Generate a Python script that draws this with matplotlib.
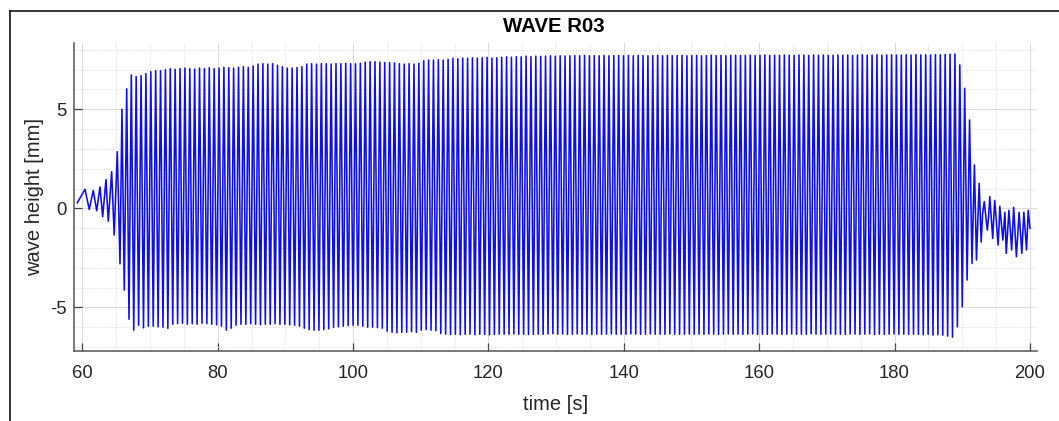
import numpy as np
import matplotlib
matplotlib.use("Agg")
import matplotlib.pyplot as plt
from matplotlib.lines import Line2D
from matplotlib.ticker import MultipleLocator

# ---------------- data ----------------
title = "WAVE R03"
x_label = "time [s]"
y_label = "wave height [mm]"
x_ticks = [60, 80, 100, 120, 140, 160, 180, 200]
y_ticks = [-5, 0, 5]

# start-up of the wave maker: extremes (time [s], height [mm])
onset_t = [59.26, 60.40, 61.03, 61.62, 62.13, 62.61, 63.01, 63.50, 63.84,
           64.34, 64.71, 65.17, 65.57, 65.86, 66.20, 66.56, 66.90]
onset_y = [0.28, 0.96, -0.05, 0.90, -0.12, 1.08, -0.42, 1.45, -0.65,
           1.85, -1.35, 2.86, -2.80, 5.00, -4.13, 6.03, -5.60]

# steady wave train: one crest and one trough per wave
train_start = 67.24      # time of first crest [s]
wave_period = 0.72       # [s]
train_crests = [
    6.73, 6.65, 6.70, 6.80,
    6.90, 6.95, 6.95, 7.00,
    7.05, 7.02, 7.05, 7.08, 7.05, 7.03, 7.08, 7.05, 7.10, 7.05,
    7.08, 7.12, 7.10, 7.08, 7.12, 7.15, 7.12, 7.18,
    7.28, 7.30, 7.28, 7.30, 7.22, 7.15,
    7.08, 7.08, 7.10, 7.15,
    7.28, 7.30, 7.28, 7.30, 7.30, 7.28, 7.30, 7.30, 7.32, 7.30,
    7.30, 7.32, 7.38, 7.40,
    7.40, 7.38, 7.36, 7.36,
    7.34, 7.30, 7.28, 7.30, 7.28,
    7.32, 7.45, 7.48,
    7.48, 7.50, 7.48, 7.52,
    7.58, 7.55, 7.58, 7.58, 7.60, 7.58, 7.60, 7.62, 7.58, 7.60,
    7.62, 7.65, 7.63, 7.66, 7.65, 7.68, 7.66, 7.68, 7.67, 7.68,
    7.70, 7.68, 7.70, 7.69, 7.70, 7.71, 7.70, 7.72, 7.70, 7.71,
    7.70, 7.72, 7.70, 7.71, 7.72, 7.70, 7.71, 7.70, 7.72, 7.71,
    7.70, 7.71, 7.73, 7.70, 7.72, 7.70, 7.71, 7.72, 7.70, 7.71,
    7.72, 7.70, 7.71, 7.73, 7.71, 7.72, 7.70, 7.72, 7.73, 7.71,
    7.72, 7.73, 7.71, 7.72, 7.74, 7.72, 7.73, 7.72, 7.74, 7.73,
    7.72, 7.74, 7.73, 7.72, 7.74, 7.73, 7.74, 7.72, 7.73, 7.74,
    7.73, 7.74, 7.72, 7.74, 7.75, 7.73, 7.74, 7.75, 7.73, 7.74,
    7.75, 7.74, 7.73, 7.75, 7.74, 7.76, 7.74, 7.75, 7.74, 7.76,
    7.75, 7.76, 7.78, 7.79,
]
train_troughs = [
    -6.15, -5.90, -6.03, -5.95,
    -5.95, -5.98, -6.00, -6.06,
    -5.85, -5.82, -5.80, -5.85, -5.82, -5.85, -5.80, -5.82, -5.85, -5.88,
    -5.95, -6.15, -6.05, -5.90,
    -5.85, -5.85, -5.82, -5.85, -5.88, -5.85, -5.85, -5.82, -5.85, -5.85,
    -5.88, -5.90, -5.95, -6.05,
    -6.12, -6.15, -6.15, -6.12, -6.08,
    -6.00, -5.98, -5.95, -5.92, -5.90,
    -5.90, -5.95, -6.00,
    -6.00, -6.02, -6.05,
    -6.20, -6.25, -6.28, -6.26, -6.25, -6.22, -6.26,
    -6.15, -6.12, -6.15, -6.18,
    -6.32, -6.35, -6.36, -6.36, -6.38, -6.36, -6.35, -6.38, -6.36, -6.36,
    -6.38, -6.36, -6.35,
    -6.35, -6.36, -6.34, -6.36, -6.35, -6.37, -6.36, -6.35, -6.36, -6.34,
    -6.33, -6.35, -6.34, -6.36, -6.35, -6.34, -6.36, -6.35, -6.37, -6.35,
    -6.36, -6.35, -6.34, -6.36, -6.35, -6.36, -6.34, -6.35, -6.36, -6.35,
    -6.34, -6.36, -6.35, -6.36, -6.34, -6.35, -6.36, -6.35, -6.34, -6.36,
    -6.35, -6.36, -6.34, -6.35, -6.36, -6.35, -6.34, -6.36, -6.35, -6.36,
    -6.35, -6.34, -6.36, -6.35, -6.36, -6.34, -6.35, -6.36, -6.35, -6.34,
    -6.36, -6.35, -6.36, -6.34, -6.35, -6.36, -6.35, -6.34, -6.36, -6.35,
    -6.36, -6.34, -6.35, -6.36, -6.35, -6.34, -6.36, -6.35, -6.36, -6.35,
    -6.34, -6.36, -6.35, -6.36, -6.35, -6.36, -6.38, -6.36, -6.40, -6.38,
    -6.40, -6.45, -6.50, -5.98,
]

# stop of the wave maker and residual motion: (time [s], height [mm])
decay_t = [189.64, 190.00, 190.36, 190.72, 191.08, 191.44, 191.80, 192.10,
           192.50, 192.80, 193.00, 193.25, 193.70, 193.90, 194.07, 194.50,
           194.65, 194.80, 195.30, 195.45, 195.55, 196.00, 196.30, 196.50,
           196.90, 197.30, 197.60, 198.00, 198.40, 198.80, 199.10, 199.50,
           199.75, 200.00]
decay_y = [7.24, -4.97, 6.06, -3.62, 4.46, -2.78, 2.19, -2.61,
           1.26, -1.70, -0.30, 0.34, -1.10, -0.40, 0.59, -1.52,
           -0.50, 0.40, -1.85, -0.80, 0.10, -1.60, -0.20, -2.27,
           -0.10, -2.10, 0.05, -2.44, -0.20, -2.27, -0.20, -2.10,
           -0.10, -1.00]

# ---------------- assemble the time series ----------------
assert len(train_crests) == len(train_troughs)
n_waves = len(train_crests)
crest_t = train_start + wave_period * np.arange(n_waves)
trough_t = crest_t + wave_period / 2
train_t = np.column_stack([crest_t, trough_t]).ravel()
train_y = np.column_stack([train_crests, train_troughs]).ravel()

t = np.concatenate([onset_t, train_t, decay_t])
y = np.concatenate([onset_y, train_y, decay_y])

# ---------------- plot ----------------
plt.rcParams["font.family"] = ["Liberation Sans", "DejaVu Sans"]
plt.rcParams["axes.unicode_minus"] = False
W, H = 1059, 421
fig = plt.figure(figsize=(W / 100, H / 100), dpi=100)
ax = fig.add_axes([73.7 / W, (H - 351) / H, (1036.7 - 73.7) / W, (351 - 43.3) / H])

ax.plot(t, y, color=(0.05, 0.05, 0.95), lw=1.15, zorder=3, solid_joinstyle="round")

ax.set_xlim(58.73, 201.0)
ax.set_ylim(-7.2, 8.33)
ax.set_xticks(x_ticks)
ax.set_yticks(y_ticks)
ax.xaxis.set_minor_locator(MultipleLocator(5))
ax.yaxis.set_minor_locator(MultipleLocator(1))

ax.set_axisbelow(True)
ax.grid(which="major", color="#dcdcdc", lw=0.8, ls="-")
ax.grid(which="minor", color="#e2e2e2", lw=0.7, ls=(0, (1.5, 1.5)))

for side in ("top", "right"):
    ax.spines[side].set_visible(False)
for side in ("left", "bottom"):
    ax.spines[side].set_color("#555555")
    ax.spines[side].set_linewidth(1.1)

ax.tick_params(which="major", direction="in", length=5.8, width=0.9,
               color="#444444", labelsize=13.3, labelcolor="#262626")
ax.tick_params(axis="x", which="major", pad=10)
ax.tick_params(axis="y", which="major", pad=5)
ax.tick_params(which="minor", length=0)

ax.set_xlabel(x_label, fontsize=14.5, color="#262626", va="center")
ax.xaxis.set_label_coords(0.5, (351 - 404.5) / 307.7)
ax.set_ylabel(y_label, fontsize=14.5, color="#262626", va="center")
ax.yaxis.set_label_coords((34.5 - 73.7) / 963.0, 0.5)
ax.text(0.4985, (351 - 27) / 307.7, title, transform=ax.transAxes,
        ha="center", va="center", fontsize=14.7, fontweight="bold", color="black")

# window frame visible in the screenshot (top and left edges)
fig.add_artist(Line2D([10 / W, 1.0], [1 - 11 / H, 1 - 11 / H],
                      transform=fig.transFigure, color="black", lw=1.1))
fig.add_artist(Line2D([10 / W, 10 / W], [0.0, 1 - 11 / H],
                      transform=fig.transFigure, color="black", lw=1.1))

fig.savefig("out.png", dpi=100)
